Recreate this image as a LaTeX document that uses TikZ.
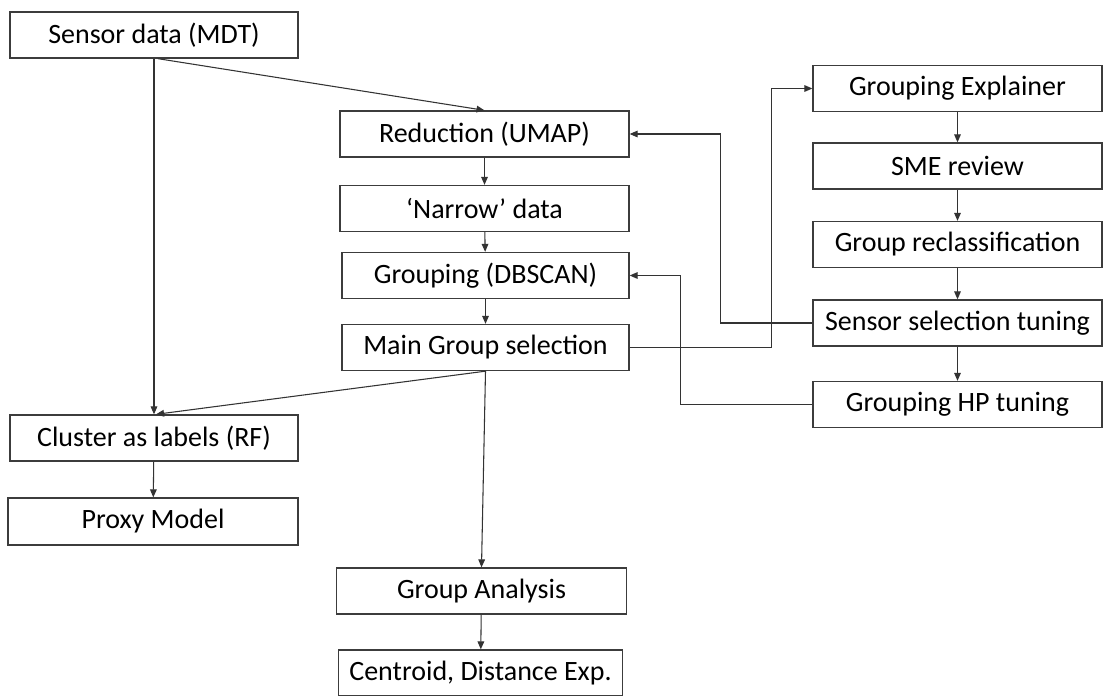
\documentclass[tikz,border=0pt]{standalone}
\usepackage{fontspec}
\setmainfont{Carlito}
\usetikzlibrary{arrows.meta}
\definecolor{boxgray}{HTML}{3C3C3C}
\definecolor{linegray}{HTML}{333333}
\begin{document}
\begin{tikzpicture}[x=0.75pt,y=-0.75pt,
  box/.style={draw=boxgray, line width=1pt, fill=white, inner sep=0pt,
    minimum height=34.5pt, minimum width=#1*0.75pt,
    font=\fontsize{21}{24}\selectfont, text=black},
  flow/.style={draw=linegray, line width=0.8pt,
    -{Triangle[length=6pt,width=5pt]}}]
\path[use as bounding box, fill=white] (0,0) rectangle (1104,696);

% left column
\node[box=288] (sensor)  at (154,35)    {Sensor data (MDT)};
\node[box=288] (cluster) at (154,438)   {Cluster as labels (RF)};
\node[box=290,minimum height=35.2pt] (proxy) at (153,521.5) {Proxy Model};

% middle column
\node[box=289] (reduction) at (484.5,134)   {Reduction (UMAP)};
\node[box=289] (narrow)    at (484.5,208.5) {`Narrow' data};
\node[box=287] (grouping)  at (485.5,275.5) {Grouping (DBSCAN)};
\node[box=287] (mainsel)   at (485.5,347.5) {Main Group selection};
\node[box=290] (analysis)  at (481.5,591)   {Group Analysis};
\node[box=284] (centroid)  at (480.5,673)   {Centroid, Distance Exp.};

% right column
\node[box=289] (explainer) at (957.5,88.5)  {Grouping Explainer};
\node[box=289] (sme)       at (957.5,166)   {SME review};
\node[box=289] (reclass)   at (957.5,244.5) {Group reclassification};
\node[box=289] (sensorsel) at (957.5,323)   {Sensor selection tuning};
\node[box=289] (hp)        at (957.5,404.5) {Grouping HP tuning};

% main pipeline
\draw[flow] (sensor.south) -- (cluster.north);
\draw[flow] ([xshift=3pt]sensor.south) -- (reduction.north);
\draw[flow] (reduction) -- (narrow);
\draw[flow] (narrow) -- (grouping);
\draw[flow] (grouping) -- (mainsel);
\draw[flow] (mainsel.south) -- ([xshift=1.5pt]cluster.north);
\draw[flow] (mainsel.south) -- (analysis.north);
\draw[flow] (analysis) -- (centroid);
\draw[flow] (cluster) -- (proxy);

% review loop
\draw[flow] (explainer) -- (sme);
\draw[flow] (sme) -- (reclass);
\draw[flow] (reclass) -- (sensorsel);
\draw[flow] (sensorsel) -- (hp);

% feedback routes
\draw[flow] (mainsel.east) -- ++(142,0) |- (explainer.west);
\draw[flow] (sensorsel.west) -- ++(-92,0) |- (reduction.east);
\draw[flow] (hp.west) -- ++(-132,0) |- (grouping.east);
\end{tikzpicture}
\end{document}
